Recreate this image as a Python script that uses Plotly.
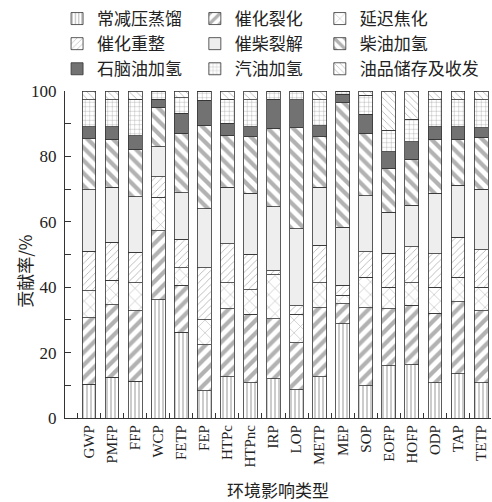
import plotly.graph_objects as go

categories = ["GWP", "PMFP", "FFP", "WCP", "FETP", "FEP", "HTPc", "HTPnc", "IRP",
              "LOP", "METP", "MEP", "SOP", "EOFP", "HOFP", "ODP", "TAP", "TETP"]

# 贡献率 (%) by process unit, bottom to top of each stack
atm_vac_distill = [10.3, 12.5, 11.2, 36.1, 26.2, 8.3, 12.6, 10.75, 12.0,
                   8.6, 12.6, 28.75, 9.9, 16.05, 16.35, 10.75, 13.5, 10.75]
cat_cracking = [20.4, 22.1, 21.6, 21.15, 14.35, 14.05, 20.85, 20.95, 18.3,
                14.35, 21.05, 6.2, 23.75, 17.4, 18.2, 21.35, 22.05, 22.05]
delayed_coking = [8.2, 7.6, 8.5, 10.25, 5.35, 7.75, 7.85, 7.5, 13.5,
                  8.75, 7.65, 2.65, 9.45, 6.6, 6.75, 7.95, 7.55, 7.25]
cat_reforming = [12.15, 11.6, 9.45, 6.3, 8.8, 15.8, 12.0, 10.95, 1.3,
                 2.65, 11.6, 3.05, 7.75, 10.4, 11.0, 10.2, 12.2, 11.4]
diesel_cracking = [18.75, 16.7, 16.95, 9.2, 14.25, 18.05, 17.3, 18.6, 19.55,
                   23.45, 17.6, 17.75, 17.15, 12.4, 12.7, 18.5, 15.9, 18.55]
diesel_hydro = [15.6, 14.75, 14.5, 12.0, 18.15, 25.65, 15.9, 17.3, 23.95,
                31.0, 15.55, 38.0, 19.1, 13.55, 14.15, 16.5, 14.05, 15.85]
naphtha_hydro = [3.7, 3.85, 4.15, 2.55, 6.1, 7.5, 3.65, 3.05, 8.95,
                 8.45, 3.35, 2.6, 5.8, 5.0, 5.35, 3.85, 3.85, 2.95]
gasoline_hydro = [8.15, 8.15, 11.2, 2.45, 4.7, 2.9, 7.3, 8.15, 2.45,
                  2.75, 7.85, 1.0, 5.8, 6.6, 6.85, 8.15, 8.15, 8.45]
oil_storage = [2.75, 2.75, 2.45, 0.3, 2.1, 0.0, 2.55, 2.75, 0.0,
               0.0, 2.75, 0.0, 1.3, 12.0, 8.65, 2.75, 2.75, 2.75]

series_names = ["常减压蒸馏", "催化裂化", "延迟焦化", "催化重整", "催柴裂解",
                "柴油加氢", "石脑油加氢", "汽油加氢", "油品储存及收发"]
series_values = [atm_vac_distill, cat_cracking, delayed_coking, cat_reforming,
                 diesel_cracking, diesel_hydro, naphtha_hydro, gasoline_hydro, oil_storage]

styles = [
    dict(color="white", pattern=dict(shape="|", fgcolor="#333", bgcolor="white", size=4, solidity=0.25)),
    dict(color="white", pattern=dict(shape="/", fgcolor="#666666", bgcolor="white", size=9, solidity=0.47)),
    dict(color="white", pattern=dict(shape="x", fgcolor="#444", bgcolor="white", size=9, solidity=0.1)),
    dict(color="white", pattern=dict(shape="/", fgcolor="#555", bgcolor="white", size=5, solidity=0.15)),
    dict(color="#eeeeee"),
    dict(color="white", pattern=dict(shape="\\", fgcolor="#666666", bgcolor="white", size=9, solidity=0.47)),
    dict(color="#727272"),
    dict(color="white", pattern=dict(shape="+", fgcolor="#333", bgcolor="white", size=4.5, solidity=0.15)),
    dict(color="white", pattern=dict(shape="\\", fgcolor="#555", bgcolor="white", size=5, solidity=0.15)),
]

# legend columns (3 columns, series fill row by row)
legend_ids = ["legend", "legend2", "legend3"]

SERIF = "Liberation Serif, Noto Sans CJK SC, serif"
CJK = "Noto Sans CJK SC, sans-serif"

fig = go.Figure()
for i, (name, vals, st) in enumerate(zip(series_names, series_values, styles)):
    marker = dict(color=st["color"], line=dict(color="#333", width=0.8))
    if "pattern" in st:
        marker["pattern"] = st["pattern"]
    fig.add_trace(go.Bar(x=categories, y=vals, name=name, marker=marker, width=0.6,
                         legend=legend_ids[i % 3]))

def legend_cfg(xpos):
    return dict(
        orientation="v",
        xref="container", yref="container",
        x=xpos, y=0.998, xanchor="left", yanchor="top",
        font=dict(family=CJK, size=17, color="#222"),
        itemwidth=30,
        traceorder="normal",
        tracegroupgap=0,
        bgcolor="rgba(0,0,0,0)",
    )

fig.update_layout(
    barmode="stack",
    width=492, height=502,
    margin=dict(l=65, r=1, t=91, b=84, autoexpand=False),
    paper_bgcolor="white", plot_bgcolor="white",
    font=dict(family=SERIF, size=15, color="#222"),
    legend=legend_cfg(0.116),
    legend2=legend_cfg(0.396),
    legend3=legend_cfg(0.650),
    annotations=[dict(
        text="贡献率/%", textangle=-90,
        xref="paper", yref="paper", x=-0.094, y=0.45,
        xanchor="center", yanchor="middle", showarrow=False,
        font=dict(family=CJK, size=17, color="#222"),
    )],
)

fig.update_xaxes(
    type="category",
    range=[-1.04, 17.43],
    automargin=False,
    showline=True, linecolor="#333", linewidth=1.2,
    ticks="inside", ticklen=5, tickcolor="#333", tickson="boundaries",
    tickangle=-90,
    tickfont=dict(family=SERIF, size=15, color="#222"),
    title=dict(text="环境影响类型", font=dict(family=CJK, size=17, color="#222"), standoff=19),
    showgrid=False, zeroline=False,
)

fig.update_yaxes(
    range=[0, 100],
    dtick=20,
    automargin=False,
    showline=True, linecolor="#333", linewidth=1.2,
    ticks="inside", ticklen=6, tickcolor="#333",
    minor=dict(dtick=10, ticks="inside", ticklen=6, tickcolor="#333"),
    tickfont=dict(family=SERIF, size=17, color="#222"),
    ticklabelstandoff=4,
    showgrid=False, zeroline=False,
)

fig.write_html("out.html", config={"displayModeBar": False},
               post_script="document.body.style.margin='0';")
